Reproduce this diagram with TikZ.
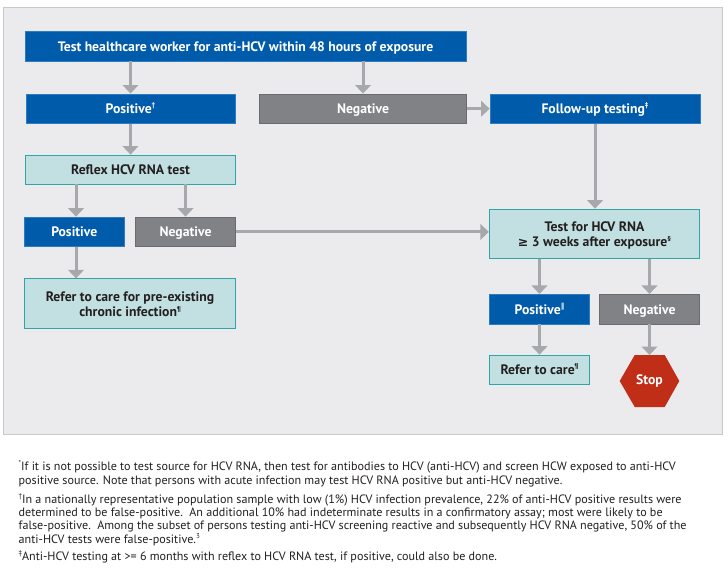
\documentclass[tikz,border=0pt]{standalone}
\usepackage{fontspec}
\setmainfont{PT Sans}
\newfontfamily\symfont{DejaVu Sans}
\usetikzlibrary{arrows.meta}
\definecolor{panelfill}{HTML}{EBEBEE}
\definecolor{panelline}{HTML}{C9C9CB}
\definecolor{blueF}{HTML}{005BAA}
\definecolor{blueL}{HTML}{2A7CC4}
\definecolor{greyF}{HTML}{808285}
\definecolor{greyL}{HTML}{6A6B6E}
\definecolor{tealF}{HTML}{C2E0E1}
\definecolor{tealL}{HTML}{2FA5A5}
\definecolor{stopF}{HTML}{C12E17}
\definecolor{arrowC}{HTML}{A7A8AB}
\definecolor{inkC}{HTML}{231F20}
\newcommand{\sups}[1]{\raisebox{0.42em}{\fontsize{7}{7}\selectfont #1}}
\newcommand{\downby}[1]{\rule{0pt}{#1}}
\tikzset{
  x=1pt,y=-1pt,
  boxbase/.style={rectangle,inner sep=0pt,line width=0.8pt,align=center,font=\fontsize{13.7}{15}\selectfont\bfseries},
  oneline/.style={text height=13pt,text depth=3pt},
  bluebox/.style={boxbase,draw=blueL,fill=blueF,text=white},
  greybox/.style={boxbase,draw=greyL,fill=greyF,text=white},
  tealbox/.style={boxbase,draw=tealL,fill=tealF,text=inkC},
  arr/.style={draw=arrowC,line width=3pt,-{Triangle[length=8.5pt,width=15.5pt]}},
  note/.style={anchor=north west,inner sep=0pt,align=left,text=inkC,font=\fontsize{12.1}{13.3}\selectfont},
  dims/.style 2 args={minimum width=#1pt,minimum height=#2pt}
}
\begin{document}
\begin{tikzpicture}
\useasboundingbox (0,0) rectangle (728,573);
\fill[white] (0,0) rectangle (728,573);
\draw[draw=panelline,fill=panelfill,line width=1pt] (3.5,7) rectangle (722.5,434);
% top row
\node[bluebox,oneline,dims={441}{29.5}] (top) at (245.5,46.2) {Test healthcare worker for anti-HCV within 48 hours of exposure};
\node[bluebox,oneline,dims={209}{29.5}] (pos1) at (130.5,108.7) {Positive\sups{†}};
\node[greybox,oneline,dims={207}{29.5}] (neg1) at (363,108.7) {Negative};
\node[bluebox,oneline,dims={210}{29.5}] (follow) at (595,108.7) {Follow-up testing\sups{‡}};
% left column
\node[tealbox,oneline,dims={210}{29}] (reflex) at (130.5,169.5) {Reflex HCV RNA test};
\node[bluebox,oneline,dims={100.5}{29.7}] (pos2) at (74.3,231.9) {Positive};
\node[greybox,oneline,dims={100}{29.7}] (neg2) at (185.5,231.9) {Negative};
\node[tealbox,dims={211}{49.3}] (care1) at (130,303.4) {\downby{12pt}Refer to care for pre-existing\\chronic infection\sups{¶}};
% right column
\node[tealbox,dims={210.4}{49.3}] (rna) at (594.5,233.7) {\downby{14pt}Test for HCV RNA\\{\symfont\bfseries\fontsize{12.5}{15}\selectfont ≥} 3 weeks after exposure\sups{§}};
\node[bluebox,oneline,dims={100.4}{29.7}] (pos3) at (539.5,309.2) {Positive\sups{\symfont ‖}};
\node[greybox,oneline,dims={100.4}{29.7}] (neg3) at (649.5,309.2) {Negative};
\node[tealbox,oneline,dims={100.4}{29.3}] (care2) at (539.5,369.7) {Refer to care\sups{¶}};
% stop sign
\fill[stopF] (619.7,381) -- (634.7,355) -- (664.7,355) -- (679.3,381) -- (664.7,407) -- (634.7,407) -- cycle;
\node[font=\fontsize{13.7}{15}\selectfont\bfseries,text=white,inner sep=0pt] (stop) at (649.5,381) {Stop};
\coordinate (stoptop) at (649.5,355);
% connectors
\draw[arr] (top.south -| pos1.north) -- (pos1.north);
\draw[arr] (top.south -| neg1.north) -- (neg1.north);
\draw[arr] (neg1.east) -- (follow.west);
\draw[arr] (pos1.south) -- (reflex.north -| pos1.south);
\draw[arr] ([xshift=1.7pt]pos2.north |- reflex.south) -- ([xshift=1.7pt]pos2.north);
\draw[arr] (neg2.north |- reflex.south) -- (neg2.north);
\draw[arr] ([xshift=1.7pt]pos2.south) -- ([xshift=1.7pt]pos2.south |- care1.north);
\draw[arr] (neg2.east) -- (neg2.east -| rna.west);
\draw[arr] (follow.south) -- (follow.south |- rna.north);
\draw[arr] (pos3.north |- rna.south) -- (pos3.north);
\draw[arr] (neg3.north |- rna.south) -- (neg3.north);
\draw[arr] (pos3.south) -- (care2.north);
\draw[arr] (neg3.south) -- (stoptop);
% footnotes
\node[note] (n1) at (18.5,460.5) {\sups{*}If it is not possible to test source for HCV RNA, then test for antibodies to HCV (anti-HCV) and screen HCW exposed to anti-HCV\\positive source. Note that persons with acute infection may test HCV RNA positive but anti-HCV negative.};
\node[note] (n2) at (18.5,493) {\sups{†}In a nationally representative population sample with low (1\%) HCV infection prevalence, 22\% of anti-HCV positive results were\\determined to be false-positive.\ \ An additional 10\% had indeterminate results in a confirmatory assay; most were likely to be\\false-positive.\ \ Among the subset of persons testing anti-HCV screening reactive and subsequently HCV RNA negative, 50\% of the\\anti-HCV tests were false-positive.\sups{3}};
\node[note] (n3) at (18.5,550.5) {\sups{‡}Anti-HCV testing at >= 6 months with reflex to HCV RNA test, if positive, could also be done.};
\end{tikzpicture}
\end{document}
